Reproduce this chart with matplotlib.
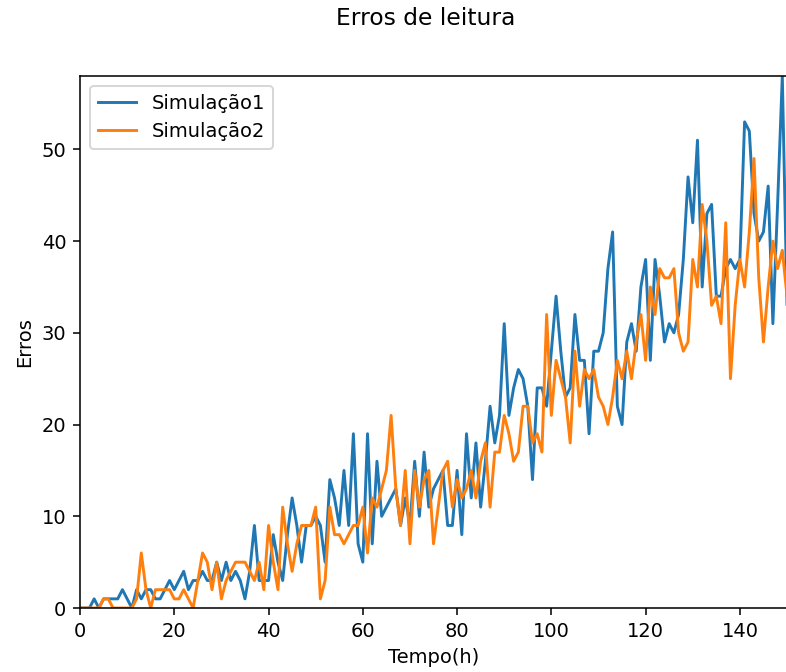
"""
Erros de leitura ao longo do tempo para duas simulações.
"""

import numpy as np
import matplotlib
matplotlib.use("Agg")
import matplotlib.pyplot as plt


# erros por hora (h = 0..150)
tempo = np.arange(0, 151)

erros_sim1 = [
    0, 0, 0, 1, 0, 1, 1, 1, 1, 2,
    1, 0, 2, 1, 2, 2, 1, 1, 2, 3,
    2, 3, 4, 2, 3, 3, 4, 3, 3, 5,
    3, 5, 3, 4, 3, 1, 4, 9, 3, 3,
    3, 8, 5, 3, 8, 12, 9, 5, 9, 9,
    10, 9, 5, 14, 12, 9, 15, 9, 19, 7,
    5, 19, 7, 16, 10, 11, 12, 13, 9, 12,
    9, 16, 10, 17, 11, 13, 14, 15, 9, 9,
    15, 8, 19, 12, 18, 11, 16, 22, 18, 21,
    31, 21, 24, 26, 25, 22, 14, 24, 24, 22,
    28, 34, 28, 23, 24, 32, 27, 27, 19, 28,
    28, 30, 37, 41, 22, 20, 29, 31, 28, 35,
    38, 27, 38, 34, 29, 31, 30, 32, 38, 47,
    42, 51, 35, 43, 44, 34, 34, 37, 38, 37,
    38, 53, 52, 43, 40, 41, 46, 31, 44, 58,
    33,
]

erros_sim2 = [
    0, 0, 0, 0, 0, 1, 1, 0, 0, 0,
    0, 0, 1, 6, 2, 0, 2, 2, 2, 2,
    1, 1, 2, 1, 0, 3, 6, 5, 2, 5,
    1, 3, 4, 5, 5, 5, 4, 3, 5, 2,
    9, 5, 2, 11, 7, 4, 7, 9, 9, 9,
    11, 1, 3, 11, 8, 8, 7, 8, 9, 9,
    11, 6, 12, 11, 13, 15, 21, 13, 9, 15,
    7, 15, 11, 14, 15, 7, 11, 15, 16, 11,
    14, 12, 13, 15, 12, 16, 18, 11, 17, 17,
    21, 19, 16, 17, 22, 22, 18, 19, 17, 32,
    21, 27, 25, 23, 18, 28, 22, 26, 25, 26,
    23, 22, 20, 23, 27, 25, 28, 25, 29, 32,
    27, 35, 32, 37, 36, 36, 37, 30, 28, 29,
    38, 35, 44, 40, 33, 34, 31, 42, 25, 33,
    38, 35, 41, 49, 36, 29, 35, 40, 37, 39,
    34,
]


def main() -> None:
    fig = plt.figure(figsize=(786 / 140, 672 / 140), dpi=140)
    ax = fig.add_axes([0.1018, 0.0952, 0.8995, 0.7917])

    ax.plot(tempo, erros_sim1, label="Simulação1")
    ax.plot(tempo, erros_sim2, label="Simulação2")

    ax.set_xlim(0, 150)
    ax.set_ylim(0, 58)
    ax.set_xticks(np.arange(0, 141, 20))
    ax.set_yticks(np.arange(0, 51, 10))
    ax.set_xlabel("Tempo(h)")
    ax.set_ylabel("Erros")
    ax.legend(loc="upper left")

    fig.suptitle("Erros de leitura", x=0.541, y=0.99)
    fig.savefig("out.png")
    plt.close(fig)


if __name__ == "__main__":
    main()
